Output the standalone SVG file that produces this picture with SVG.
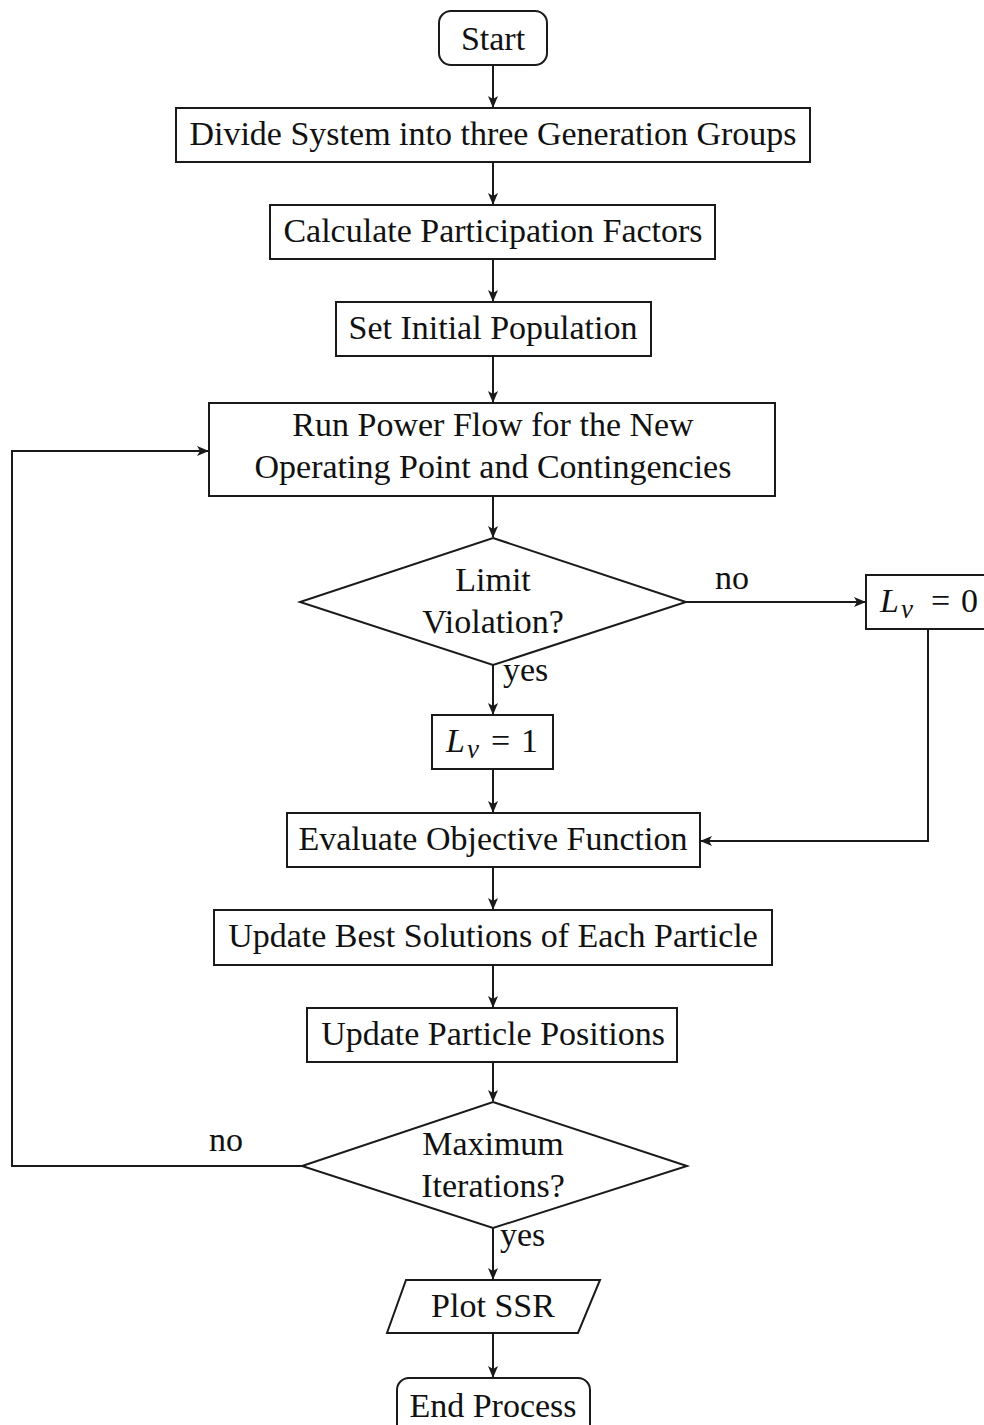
<svg xmlns="http://www.w3.org/2000/svg" width="984" height="1425" viewBox="0 0 984 1425">
  <style>
    .shape { fill: #ffffff; stroke: #1a1a1a; stroke-width: 2; }
    .edge { fill: none; stroke: #1a1a1a; stroke-width: 2; }
    .lbl { font-family: "Liberation Serif", "Times New Roman", serif; font-size: 34px; fill: #111111; text-anchor: middle; }
    .side { font-family: "Liberation Serif", "Times New Roman", serif; font-size: 34px; fill: #111111; }
    .math { font-family: "Liberation Serif", "Times New Roman", serif; font-size: 34px; fill: #111111; }
    .it { font-style: italic; }
    .sub { font-style: italic; font-size: 27px; }
  </style>
  <defs>
    <marker id="arrow" viewBox="0 0 12 10" refX="11" refY="5" markerWidth="12" markerHeight="10" markerUnits="userSpaceOnUse" orient="auto">
      <path d="M0,0 L12,5 L0,10 L3,5 Z" fill="#1a1a1a"/>
    </marker>
  </defs>
  <rect width="984" height="1425" fill="#ffffff"/>

  <g id="connectors">
    <path class="edge" d="M493,65 V107" marker-end="url(#arrow)"/>
    <path class="edge" d="M493,162 V204" marker-end="url(#arrow)"/>
    <path class="edge" d="M493,259 V301" marker-end="url(#arrow)"/>
    <path class="edge" d="M493,356 V402" marker-end="url(#arrow)"/>
    <path class="edge" d="M493,496 V537" marker-end="url(#arrow)"/>
    <path class="edge" d="M686,602 H865" marker-end="url(#arrow)"/>
    <path class="edge" d="M493,665 V714" marker-end="url(#arrow)"/>
    <path class="edge" d="M928,629 V841 H701" marker-end="url(#arrow)"/>
    <path class="edge" d="M493,769 V812" marker-end="url(#arrow)"/>
    <path class="edge" d="M493,867 V909" marker-end="url(#arrow)"/>
    <path class="edge" d="M493,965 V1007" marker-end="url(#arrow)"/>
    <path class="edge" d="M493,1062 V1101" marker-end="url(#arrow)"/>
    <path class="edge" d="M302,1166 H12 V451 H208" marker-end="url(#arrow)"/>
    <path class="edge" d="M493,1228 V1279" marker-end="url(#arrow)"/>
    <path class="edge" d="M493,1333 V1377" marker-end="url(#arrow)"/>
    <text class="side" x="715" y="589">no</text>
    <text class="side" x="503" y="681">yes</text>
    <text class="side" x="209" y="1151">no</text>
    <text class="side" x="500" y="1246">yes</text>
  </g>

  <g id="start">
    <rect class="shape" x="439" y="11" width="108" height="54" rx="12"/>
    <text class="lbl" x="493" y="50">Start</text>
  </g>
  <g id="divide">
    <rect class="shape" x="176" y="108" width="634" height="54"/>
    <text class="lbl" x="493" y="145">Divide System into three Generation Groups</text>
  </g>
  <g id="participation">
    <rect class="shape" x="270" y="205" width="445" height="54"/>
    <text class="lbl" x="493" y="242">Calculate Participation Factors</text>
  </g>
  <g id="population">
    <rect class="shape" x="336" y="302" width="315" height="54"/>
    <text class="lbl" x="493" y="339">Set Initial Population</text>
  </g>
  <g id="powerflow">
    <rect class="shape" x="209" y="403" width="566" height="93"/>
    <text class="lbl" x="493" y="436">Run Power Flow for the New</text>
    <text class="lbl" x="493" y="478">Operating Point and Contingencies</text>
  </g>
  <g id="limit">
    <polygon class="shape" points="493,538 686,602 493,665 300,602"/>
    <text class="lbl" x="493" y="591">Limit</text>
    <text class="lbl" x="493" y="633">Violation?</text>
  </g>
  <g id="lv0">
    <rect class="shape" x="866" y="575" width="130" height="54"/>
    <text class="math it" x="880" y="612">L</text>
    <text class="math sub" x="901" y="618">v</text>
    <text class="math" x="931" y="612">=</text>
    <text class="math" x="961" y="612">0</text>
  </g>
  <g id="lv1">
    <rect class="shape" x="432" y="715" width="121" height="54"/>
    <text class="math it" x="446" y="752">L</text>
    <text class="math sub" x="467" y="758">v</text>
    <text class="math" x="491" y="752">=</text>
    <text class="math" x="521" y="752">1</text>
  </g>
  <g id="objective">
    <rect class="shape" x="287" y="813" width="413" height="54"/>
    <text class="lbl" x="493" y="850">Evaluate Objective Function</text>
  </g>
  <g id="bestsolutions">
    <rect class="shape" x="214" y="910" width="558" height="55"/>
    <text class="lbl" x="493" y="947">Update Best Solutions of Each Particle</text>
  </g>
  <g id="positions">
    <rect class="shape" x="307" y="1008" width="370" height="54"/>
    <text class="lbl" x="493" y="1045">Update Particle Positions</text>
  </g>
  <g id="iterations">
    <polygon class="shape" points="493,1102 687,1166 493,1228 302,1166"/>
    <text class="lbl" x="493" y="1155">Maximum</text>
    <text class="lbl" x="493" y="1197">Iterations?</text>
  </g>
  <g id="plot">
    <polygon class="shape" points="406,1280 600,1280 578,1333 387,1333"/>
    <text class="lbl" x="493" y="1317">Plot SSR</text>
  </g>
  <g id="end">
    <rect class="shape" x="397" y="1378" width="193" height="60" rx="12"/>
    <text class="lbl" x="493" y="1417">End Process</text>
  </g>
</svg>
